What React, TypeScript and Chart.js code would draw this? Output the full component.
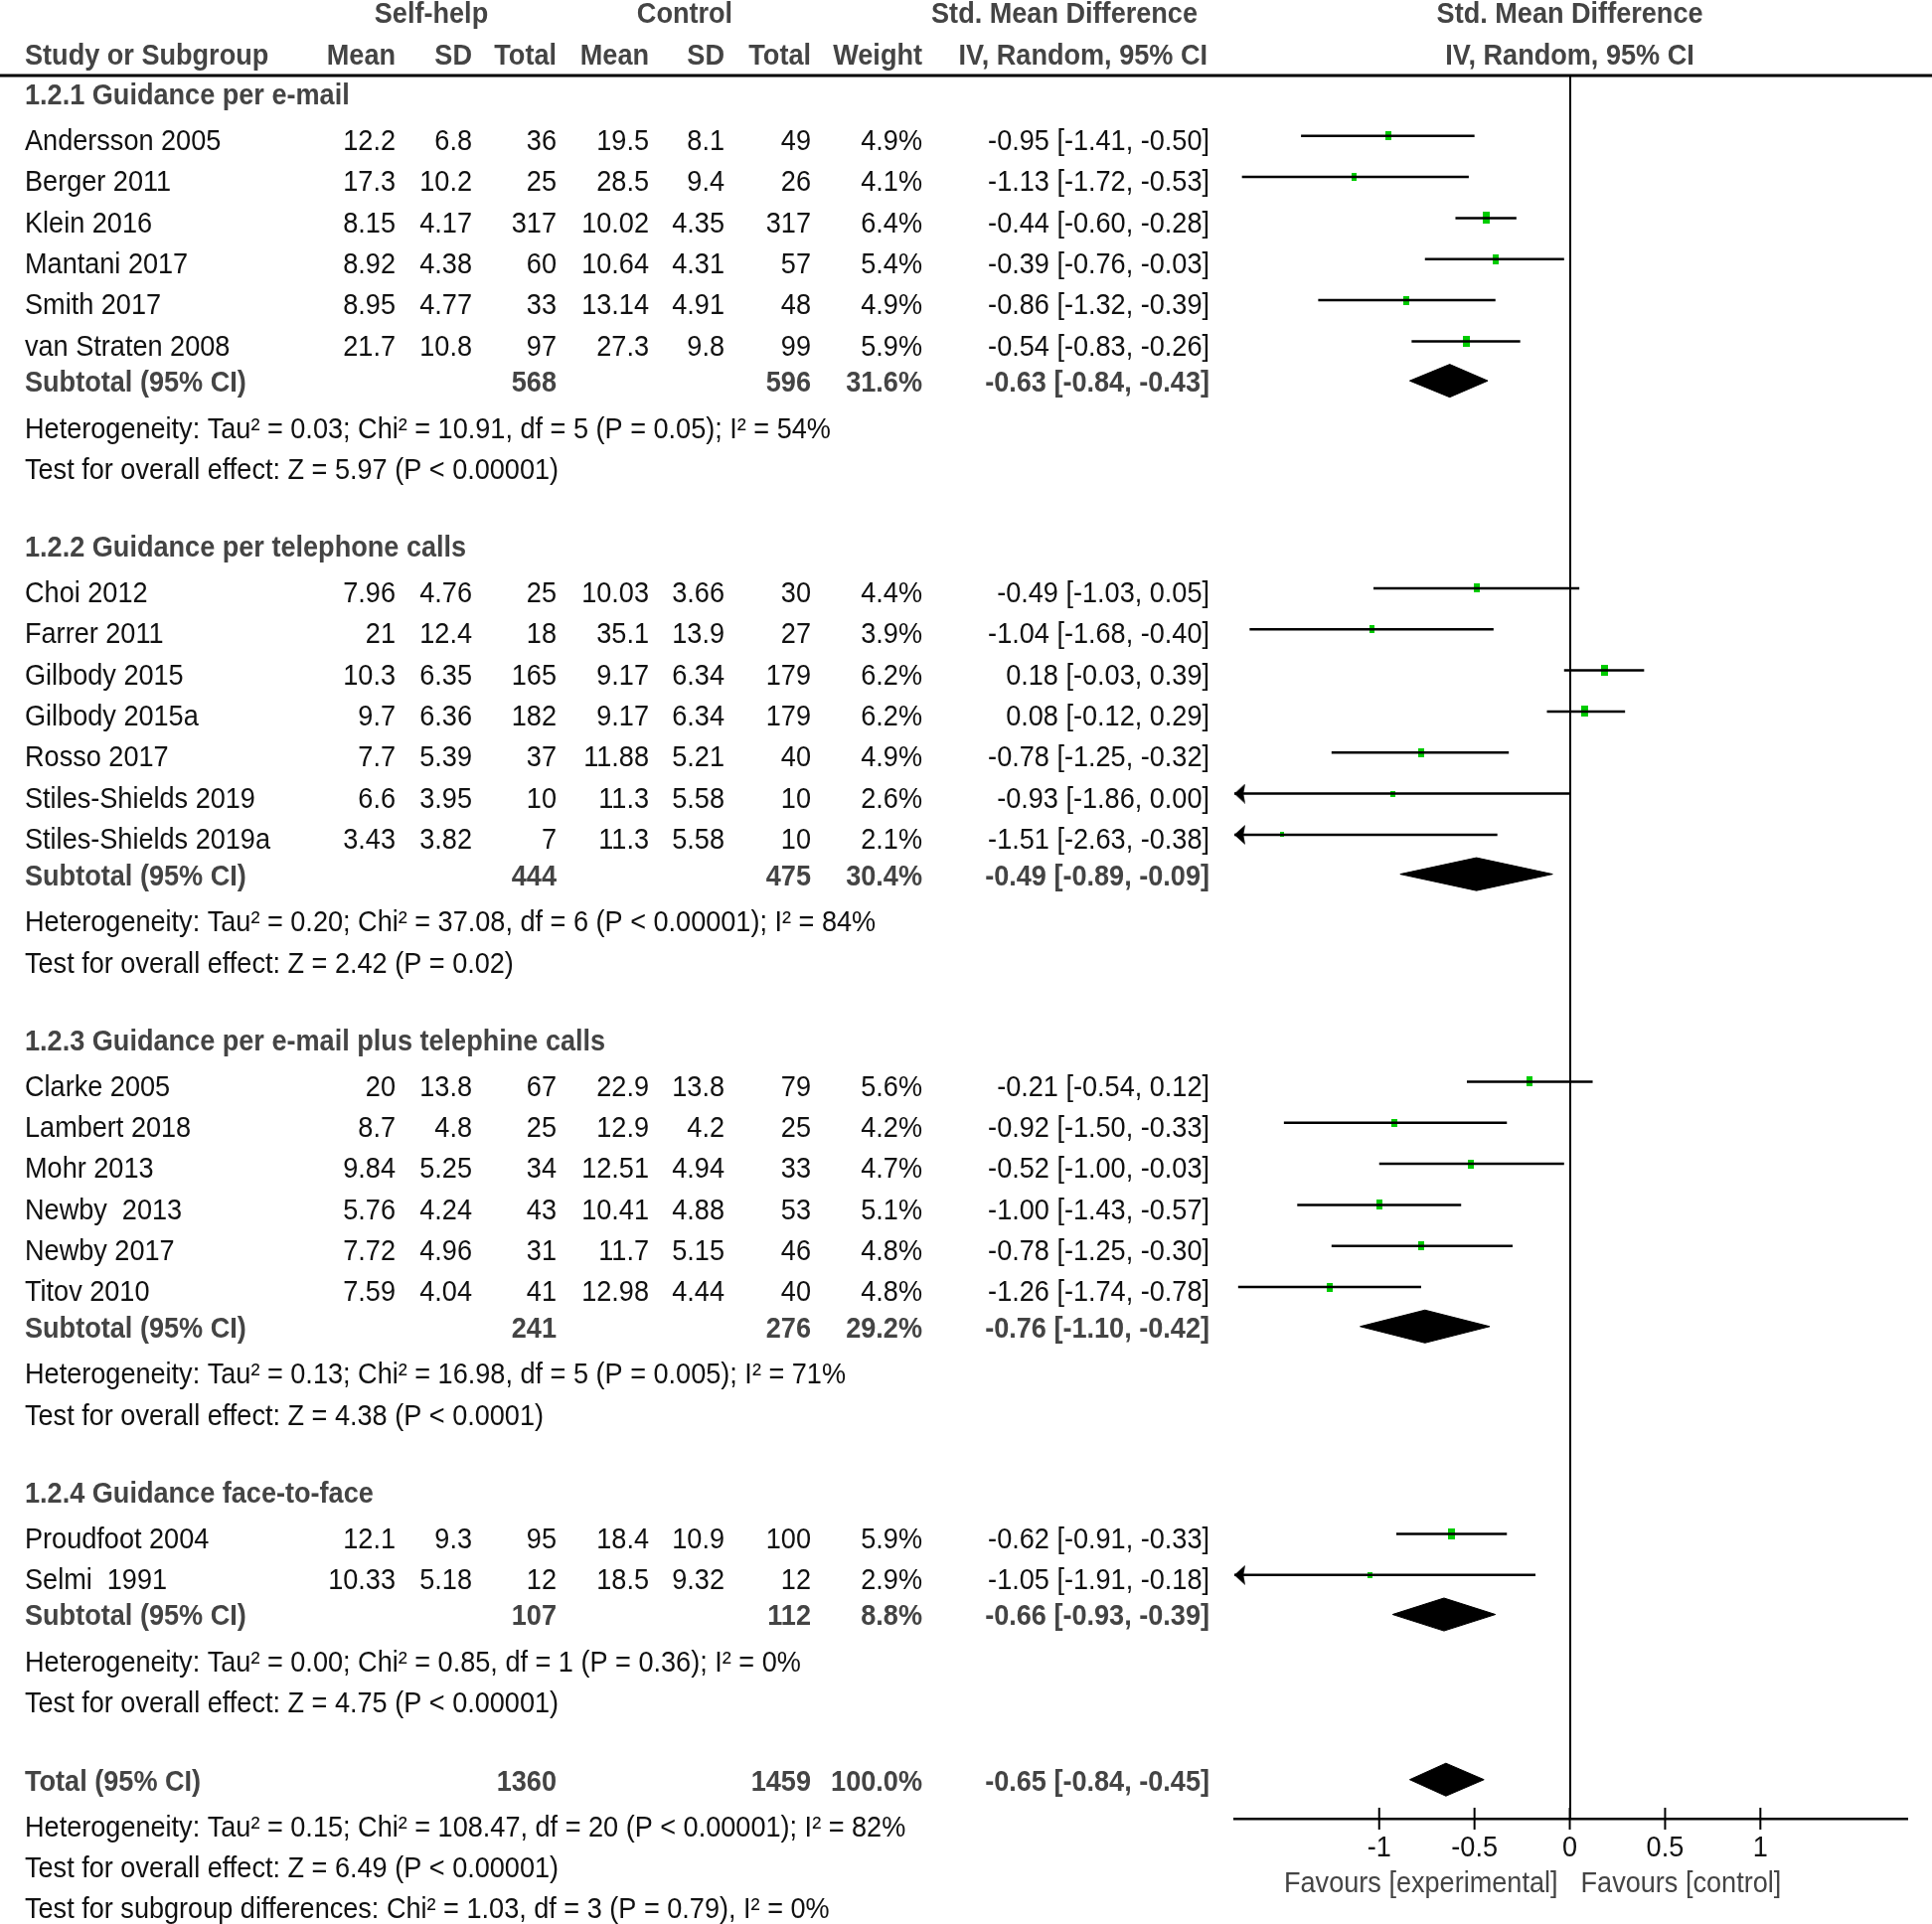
import React, { useEffect, useRef } from "react";
import { Chart, registerables } from "chart.js";

Chart.register(...registerables);

// ---------------- data ----------------
const studies = [
  "Andersson 2005", "Berger 2011", "Klein 2016", "Mantani 2017", "Smith 2017", "van Straten 2008",
  "Choi 2012", "Farrer 2011", "Gilbody 2015", "Gilbody 2015a", "Rosso 2017", "Stiles-Shields 2019", "Stiles-Shields 2019a",
  "Clarke 2005", "Lambert 2018", "Mohr 2013", "Newby  2013", "Newby 2017", "Titov 2010",
  "Proudfoot 2004", "Selmi  1991",
];
const studyGroup = [0, 0, 0, 0, 0, 0, 1, 1, 1, 1, 1, 1, 1, 2, 2, 2, 2, 2, 2, 3, 3];
const shMean = [12.2, 17.3, 8.15, 8.92, 8.95, 21.7, 7.96, 21, 10.3, 9.7, 7.7, 6.6, 3.43, 20, 8.7, 9.84, 5.76, 7.72, 7.59, 12.1, 10.33];
const shSD = [6.8, 10.2, 4.17, 4.38, 4.77, 10.8, 4.76, 12.4, 6.35, 6.36, 5.39, 3.95, 3.82, 13.8, 4.8, 5.25, 4.24, 4.96, 4.04, 9.3, 5.18];
const shN = [36, 25, 317, 60, 33, 97, 25, 18, 165, 182, 37, 10, 7, 67, 25, 34, 43, 31, 41, 95, 12];
const ctMean = [19.5, 28.5, 10.02, 10.64, 13.14, 27.3, 10.03, 35.1, 9.17, 9.17, 11.88, 11.3, 11.3, 22.9, 12.9, 12.51, 10.41, 11.7, 12.98, 18.4, 18.5];
const ctSD = [8.1, 9.4, 4.35, 4.31, 4.91, 9.8, 3.66, 13.9, 6.34, 6.34, 5.21, 5.58, 5.58, 13.8, 4.2, 4.94, 4.88, 5.15, 4.44, 10.9, 9.32];
const ctN = [49, 26, 317, 57, 48, 99, 30, 27, 179, 179, 40, 10, 10, 79, 25, 33, 53, 46, 40, 100, 12];
const weight = [4.9, 4.1, 6.4, 5.4, 4.9, 5.9, 4.4, 3.9, 6.2, 6.2, 4.9, 2.6, 2.1, 5.6, 4.2, 4.7, 5.1, 4.8, 4.8, 5.9, 2.9];
const smd = [-0.95, -1.13, -0.44, -0.39, -0.86, -0.54, -0.49, -1.04, 0.18, 0.08, -0.78, -0.93, -1.51, -0.21, -0.92, -0.52, -1.0, -0.78, -1.26, -0.62, -1.05];
const ciLo = [-1.41, -1.72, -0.6, -0.76, -1.32, -0.83, -1.03, -1.68, -0.03, -0.12, -1.25, -1.86, -2.63, -0.54, -1.5, -1.0, -1.43, -1.25, -1.74, -0.91, -1.91];
const ciHi = [-0.5, -0.53, -0.28, -0.03, -0.39, -0.26, 0.05, -0.4, 0.39, 0.29, -0.32, 0.0, -0.38, 0.12, -0.33, -0.03, -0.57, -0.3, -0.78, -0.33, -0.18];

const groupTitles = [
  "1.2.1 Guidance per e-mail",
  "1.2.2 Guidance per telephone calls",
  "1.2.3 Guidance per e-mail plus telephine calls",
  "1.2.4 Guidance face-to-face",
];
const subN1 = [568, 444, 241, 107];
const subN2 = [596, 475, 276, 112];
const subWeight = [31.6, 30.4, 29.2, 8.8];
const subSmd = [-0.63, -0.49, -0.76, -0.66];
const subLo = [-0.84, -0.89, -1.1, -0.93];
const subHi = [-0.43, -0.09, -0.42, -0.39];
const hetTexts = [
  "Heterogeneity: Tau² = 0.03; Chi² = 10.91, df = 5 (P = 0.05); I² = 54%",
  "Heterogeneity: Tau² = 0.20; Chi² = 37.08, df = 6 (P < 0.00001); I² = 84%",
  "Heterogeneity: Tau² = 0.13; Chi² = 16.98, df = 5 (P = 0.005); I² = 71%",
  "Heterogeneity: Tau² = 0.00; Chi² = 0.85, df = 1 (P = 0.36); I² = 0%",
];
const effectTexts = [
  "Test for overall effect: Z = 5.97 (P < 0.00001)",
  "Test for overall effect: Z = 2.42 (P = 0.02)",
  "Test for overall effect: Z = 4.38 (P < 0.0001)",
  "Test for overall effect: Z = 4.75 (P < 0.00001)",
];
const totalN1 = 1360;
const totalN2 = 1459;
const totalWeight = 100.0;
const totalSmd = -0.65;
const totalLo = -0.84;
const totalHi = -0.45;
const totalTexts = [
  "Heterogeneity: Tau² = 0.15; Chi² = 108.47, df = 20 (P < 0.00001); I² = 82%",
  "Test for overall effect: Z = 6.49 (P < 0.00001)",
  "Test for subgroup differences: Chi² = 1.03, df = 3 (P = 0.79), I² = 0%",
];
const xTicks = [-1, -0.5, 0, 0.5, 1];
const xTickLabels = ["-1", "-0.5", "0", "0.5", "1"];
const favoursLeft = "Favours [experimental]";
const favoursRight = "Favours [control]";

// ---------------- layout ----------------
const W = 1944;
const H = 1936;
const X_MIN = -1.76;
const X_MAX = 1.77;
const Y_MAX = 42.43;
const FIRST = 0.51;
const HEAD_TO_STUDY = 1.11;
const STUDY_TO_SUB = 0.88;
const SUB_TO_HET = 1.13;
const GROUP_GAP = 1.89;
const TOTAL_TO_HET = 1.11;
const MARK_OFF = -0.15;
const DIA_OFF = -0.07;
const DIA_H = 0.4;
const FS = 29;
const FONT = '"Liberation Sans", Arial, sans-serif';
const COL = { name: 25, m1: 398, sd1: 475, n1: 560, m2: 653, sd2: 729, n2: 816, w: 928, ci: 1217 };

const studyRow: number[] = [];
const headRow: number[] = [];
const subRow: number[] = [];
const hetRow: number[] = [];
const effRow: number[] = [];
let yy = FIRST;
for (let g = 0; g < groupTitles.length; g++) {
  headRow[g] = yy;
  yy += HEAD_TO_STUDY;
  const idx = studies.map((_, i) => i).filter((i) => studyGroup[i] === g);
  idx.forEach((i, k) => {
    studyRow[i] = yy + k;
  });
  yy += idx.length - 1 + STUDY_TO_SUB;
  subRow[g] = yy;
  yy += SUB_TO_HET;
  hetRow[g] = yy;
  yy += 1;
  effRow[g] = yy;
  yy += GROUP_GAP;
}
const totalRow = yy;
const totalTextRows = [totalRow + TOTAL_TO_HET, totalRow + TOTAL_TO_HET + 1, totalRow + TOTAL_TO_HET + 2];

const f2 = (v: number) => v.toFixed(2);
const ciText = (e: number, l: number, h: number) => `${f2(e)} [${f2(l)}, ${f2(h)}]`;

function diamond(e: number, l: number, h: number, r: number) {
  const y = r + DIA_OFF;
  return [
    { x: l, y },
    { x: e, y: y - DIA_H },
    { x: h, y },
    { x: e, y: y + DIA_H },
    { x: l, y },
  ];
}

function rectCanvas(w: number, h: number, color: string) {
  const c = document.createElement("canvas");
  c.width = w;
  c.height = h;
  const g = c.getContext("2d")!;
  g.fillStyle = color;
  g.fillRect(0, 0, w, h);
  return c;
}

function arrowCanvas() {
  const c = document.createElement("canvas");
  const w = 11;
  const h = 20;
  c.width = w;
  c.height = h;
  const g = c.getContext("2d")!;
  g.fillStyle = "#000";
  g.beginPath();
  g.moveTo(0, h / 2);
  g.lineTo(w, 0);
  g.lineTo(w * 0.85, h / 2);
  g.lineTo(w, h);
  g.closePath();
  g.fill();
  return c;
}

const textPlugin = {
  id: "forestText",
  afterDraw(chart: any) {
    const ctx = chart.ctx as CanvasRenderingContext2D;
    const ys = chart.scales.y;
    const xs = chart.scales.x;
    const area = chart.chartArea;
    const Y = (v: number) => ys.getPixelForValue(v);
    ctx.save();
    ctx.font = `${FS}px ${FONT}`;
    const sx = 826 / ctx.measureText(hetTexts[2]).width;
    const t = (s: string, x: number, y: number, align: CanvasTextAlign = "left", bold = false, color = "#111") => {
      ctx.save();
      ctx.font = `${bold ? "bold " : ""}${FS}px ${FONT}`;
      ctx.fillStyle = color;
      ctx.textBaseline = "middle";
      ctx.textAlign = align;
      ctx.translate(x, y);
      ctx.scale(sx, 1);
      ctx.fillText(s, 0, 0);
      ctx.restore();
    };
    const HB = "#444";
    // header line
    ctx.fillStyle = "#000";
    ctx.fillRect(0, area.top - 1.5, W, 3);
    const zeroPx = xs.getPixelForValue(0);
    // headers
    const h1 = Y(-1.47);
    const h2 = Y(-0.47);
    t("Self-help", 434, h1, "center", true, HB);
    t("Control", 689, h1, "center", true, HB);
    t("Std. Mean Difference", 1205, h1, "right", true, HB);
    t("Std. Mean Difference", zeroPx, h1, "center", true, HB);
    t("Study or Subgroup", COL.name, h2, "left", true, HB);
    t("Mean", COL.m1, h2, "right", true, HB);
    t("SD", COL.sd1, h2, "right", true, HB);
    t("Total", COL.n1, h2, "right", true, HB);
    t("Mean", COL.m2, h2, "right", true, HB);
    t("SD", COL.sd2, h2, "right", true, HB);
    t("Total", COL.n2, h2, "right", true, HB);
    t("Weight", COL.w, h2, "right", true, HB);
    t("IV, Random, 95% CI", 1215, h2, "right", true, HB);
    t("IV, Random, 95% CI", zeroPx, h2, "center", true, HB);
    // studies
    studies.forEach((s, i) => {
      const y = Y(studyRow[i]);
      t(s, COL.name, y);
      t(String(shMean[i]), COL.m1, y, "right");
      t(String(shSD[i]), COL.sd1, y, "right");
      t(String(shN[i]), COL.n1, y, "right");
      t(String(ctMean[i]), COL.m2, y, "right");
      t(String(ctSD[i]), COL.sd2, y, "right");
      t(String(ctN[i]), COL.n2, y, "right");
      t(weight[i].toFixed(1) + "%", COL.w, y, "right");
      t(ciText(smd[i], ciLo[i], ciHi[i]), COL.ci, y, "right");
    });
    // groups
    groupTitles.forEach((g, k) => {
      t(g, COL.name, Y(headRow[k]), "left", true, HB);
      const y = Y(subRow[k]);
      t("Subtotal (95% CI)", COL.name, y, "left", true, HB);
      t(String(subN1[k]), COL.n1, y, "right", true, HB);
      t(String(subN2[k]), COL.n2, y, "right", true, HB);
      t(subWeight[k].toFixed(1) + "%", COL.w, y, "right", true, HB);
      t(ciText(subSmd[k], subLo[k], subHi[k]), COL.ci, y, "right", true, HB);
      t(hetTexts[k], COL.name, Y(hetRow[k]));
      t(effectTexts[k], COL.name, Y(effRow[k]));
    });
    // total
    const ty = Y(totalRow);
    t("Total (95% CI)", COL.name, ty, "left", true, HB);
    t(String(totalN1), COL.n1, ty, "right", true, HB);
    t(String(totalN2), COL.n2, ty, "right", true, HB);
    t(totalWeight.toFixed(1) + "%", COL.w, ty, "right", true, HB);
    t(ciText(totalSmd, totalLo, totalHi), COL.ci, ty, "right", true, HB);
    totalTexts.forEach((s, k) => t(s, COL.name, Y(totalTextRows[k])));
    // axis ticks + labels
    ctx.strokeStyle = "#000";
    ctx.lineWidth = 2;
    xs.ticks.forEach((tk: any, k: number) => {
      const px = xs.getPixelForValue(tk.value);
      ctx.beginPath();
      ctx.moveTo(px, area.bottom - 11);
      ctx.lineTo(px, area.bottom + 11);
      ctx.stroke();
      t(xTickLabels[k], px, area.bottom + 30, "center", false, "#111");
    });
    t(favoursLeft, zeroPx - 12, area.bottom + 66, "right", false, "#444");
    t(favoursRight, zeroPx + 11, area.bottom + 66, "left", false, "#444");
    ctx.restore();
  },
};

export default function App() {
  const ref = useRef<HTMLCanvasElement>(null);
  useEffect(() => {
    document.body.style.margin = "0";
    const canvas = ref.current!;
    const markers = weight.map((w) => rectCanvas(Math.round(3 + w * 0.6), Math.round(2 + w * 1.5), "#00cc00"));
    const arrow = arrowCanvas();
    const datasets: any[] = [];
    studies.forEach((s, i) => {
      datasets.push({
        label: s,
        data: [
          { x: ciLo[i], y: studyRow[i] + MARK_OFF },
          { x: ciHi[i], y: studyRow[i] + MARK_OFF },
        ],
        showLine: true,
        borderColor: "#000",
        borderWidth: 2.5,
        pointRadius: 0,
      });
    });
    datasets.push({
      label: "estimates",
      data: studies.map((_, i) => ({ x: smd[i], y: studyRow[i] + MARK_OFF })),
      pointStyle: markers,
      pointRadius: 5,
      showLine: false,
      clip: false,
    });
    const arrowIdx = studies.map((_, i) => i).filter((i) => ciLo[i] < X_MIN);
    datasets.push({
      label: "arrows",
      data: arrowIdx.map((i) => ({ x: X_MIN + 0.028, y: studyRow[i] + MARK_OFF })),
      pointStyle: arrow,
      pointRadius: 8,
      showLine: false,
      clip: false,
    });
    groupTitles.forEach((g, k) => {
      datasets.push({
        label: g,
        data: diamond(subSmd[k], subLo[k], subHi[k], subRow[k]),
        showLine: true,
        fill: "shape",
        backgroundColor: "#000",
        borderColor: "#000",
        borderWidth: 1,
        pointRadius: 0,
      });
    });
    datasets.push({
      label: "total",
      data: diamond(totalSmd, totalLo, totalHi, totalRow),
      showLine: true,
      fill: "shape",
      backgroundColor: "#000",
      borderColor: "#000",
      borderWidth: 1,
      pointRadius: 0,
    });

    const chart = new Chart(canvas, {
      type: "scatter",
      data: { datasets },
      plugins: [textPlugin],
      options: {
        animation: false,
        responsive: false,
        devicePixelRatio: 1,
        events: [],
        layout: { padding: { left: 1242, right: 25, top: 76, bottom: 0 } },
        plugins: { legend: { display: false }, tooltip: { enabled: false } },
        scales: {
          x: {
            type: "linear",
            position: "bottom",
            min: X_MIN,
            max: X_MAX,
            afterBuildTicks: (s: any) => {
              s.ticks = xTicks.map((v) => ({ value: v }));
            },
            afterFit: (s: any) => {
              s.height = 106;
            },
            ticks: { display: false },
            grid: {
              display: true,
              drawOnChartArea: true,
              drawTicks: false,
              lineWidth: 2,
              color: (c: any) => (c.tick && c.tick.value === 0 ? "#000" : "rgba(0,0,0,0)"),
            },
            border: { display: true, color: "#000", width: 2.5 },
          },
          y: {
            type: "linear",
            display: false,
            min: 0,
            max: Y_MAX,
            reverse: true,
          },
        },
      } as any,
    });
    return () => chart.destroy();
  }, []);
  return <canvas ref={ref} width={W} height={H} style={{ display: "block", width: W, height: H }} />;
}
